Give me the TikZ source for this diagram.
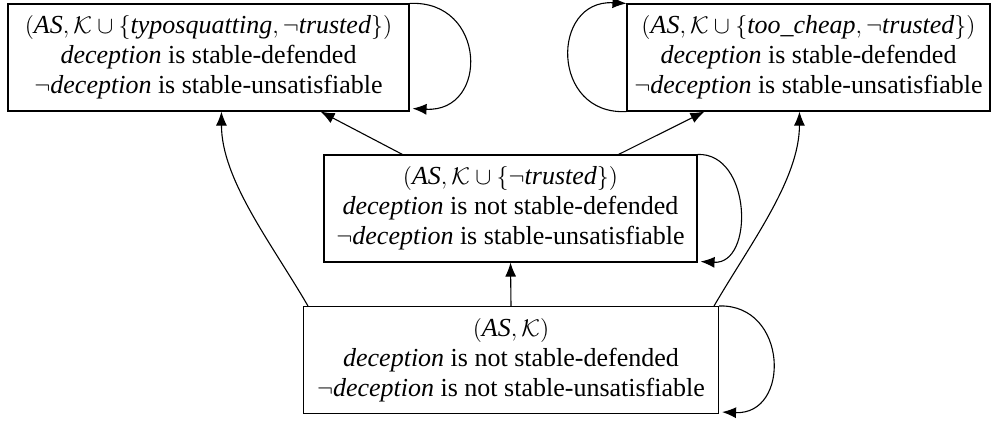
\documentclass[tikz,border=0pt]{standalone}
\usepackage{fontspec}
\setmainfont{Liberation Serif}
\usetikzlibrary{arrows.meta}
\begin{document}
\begin{tikzpicture}[x=0.5pt,y=-0.5pt,
  state/.style={draw, line width=0.55pt, rectangle, align=center, inner sep=1pt,
    minimum height=53.5pt, font=\fontsize{13}{15}\selectfont},
  arc/.style={line width=0.55pt, -{Latex[length=7pt,width=5.5pt]}}]
\useasboundingbox (0,0) rectangle (994,424);

% states of the argumentation framework
\node[state, minimum width=200.5pt] (tl) at (208.5,57.5)
  {$(\textit{AS}, \mathcal{K} \cup \{\textit{typosquatting}, \neg\textit{trusted}\})$\\
   \textit{deception} is stable-defended\\
   $\neg$\textit{deception} is stable-unsatisfiable};
\node[state, minimum width=181.5pt] (tr) at (808.5,57.5)
  {$(\textit{AS}, \mathcal{K} \cup \{\textit{too\_cheap}, \neg\textit{trusted}\})$\\
   \textit{deception} is stable-defended\\
   $\neg$\textit{deception} is stable-unsatisfiable};
\node[state, minimum width=186.5pt] (m) at (510.5,208.5)
  {$(\textit{AS}, \mathcal{K} \cup \{\neg\textit{trusted}\})$\\
   \textit{deception} is not stable-defended\\
   $\neg$\textit{deception} is stable-unsatisfiable};
\node[state, minimum width=207.5pt] (b) at (511,360)
  {$(\textit{AS}, \mathcal{K})$\\
   \textit{deception} is not stable-defended\\
   $\neg$\textit{deception} is not stable-unsatisfiable};

% transitions
\draw[arc] (b.north) -- (m.south);
\draw[arc] ([xshift=39.5pt]m.north west) -- ([xshift=-44.5pt]tl.south east);
\draw[arc] ([xshift=-39.5pt]m.north east) -- ([xshift=39pt]tr.south west);
\draw[arc] ([xshift=2.5pt]b.north west) .. controls +(-36,-62) and +(0,68) .. ([xshift=107pt]tl.south west);
\draw[arc] ([xshift=-2.5pt]b.north east) .. controls +(36,-62) and +(0,68) .. ([xshift=86.5pt]tr.south west);

% self loops
\draw[arc] (tl.north east) .. controls +(77,-4) and +(77,4) .. ([shift={(1.5pt,1.5pt)}]tl.south east);
\draw[arc] (tr.south west) .. controls +(-76,4) and +(-76,-4) .. (tr.north west);
\draw[arc] (m.north east) .. controls +(54,-2) and +(54,3) .. ([shift={(1.5pt,0.5pt)}]m.south east);
\draw[arc] (b.north east) .. controls +(69,-2) and +(69,3) .. ([shift={(1.5pt,1pt)}]b.south east);
\end{tikzpicture}
\end{document}
